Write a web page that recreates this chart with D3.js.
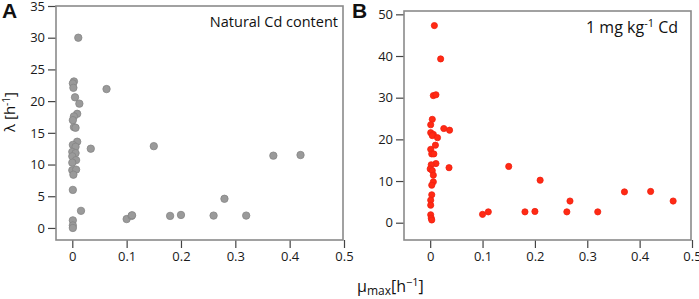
<!DOCTYPE html>
<html>
<head>
<meta charset="utf-8">
<script src="https://cdn.jsdelivr.net/npm/d3@7"></script>
<style>
  body { margin: 0; background: #fff; }
  svg { display: block; font-family: "Open Sans", sans-serif; }
</style>
</head>
<body>
<svg id="chart" width="699" height="299"></svg>
<script>
"use strict";

// Panel A: natural Cd content (mu_max, lambda)
const muNatural = [0.011, 0.003, 0.001, 0.002, 0.005, 0.013, 0.009, 0.003, 0.001, 0.003,
  0.006, 0.009, 0.001, 0.006, 0.034, 0.0, 0.006, 0.0, 0.007, 0.0, 0.0, 0.007, 0.002,
  0.001, 0.016, 0.001, 0.001, 0.001, 0.063, 0.1, 0.109, 0.11, 0.15, 0.18, 0.2, 0.26,
  0.28, 0.32, 0.37, 0.42];
const lambdaNatural = [30.0, 23.1, 22.8, 22.1, 20.6, 19.6, 18.0, 17.6, 17.0, 15.9,
  15.8, 13.6, 13.1, 12.8, 12.5, 12.0, 11.8, 11.3, 10.7, 10.3, 9.1, 9.2, 8.4,
  6.0, 2.7, 1.2, 0.4, 0.0, 21.9, 1.4, 1.9, 2.0, 12.9, 1.9, 2.05, 1.95,
  4.6, 1.95, 11.4, 11.5];

// Panel B: 1 mg/kg Cd
const muCd = [0.008, 0.02, 0.006, 0.011, 0.004, 0.001, 0.026, 0.037, 0.001, 0.006,
  0.004, 0.014, 0.01, 0.001, 0.003, 0.007, 0.011, 0.002, 0.036, 0.0, 0.004, 0.006,
  0.006, 0.003, 0.003, 0.001, 0.001, 0.001, 0.002, 0.003, 0.1, 0.111, 0.15, 0.21,
  0.181, 0.2, 0.261, 0.267, 0.32, 0.371, 0.421, 0.464];
const lambdaCd = [47.3, 39.3, 30.5, 30.7, 24.8, 23.5, 22.6, 22.2, 21.6, 21.2,
  20.9, 20.4, 18.6, 17.6, 16.5, 16.5, 14.2, 13.9, 13.2, 12.9, 12.5, 11.4,
  9.8, 9.0, 6.7, 5.4, 4.2, 1.9, 1.1, 0.65, 2.0, 2.6, 13.5, 10.2,
  2.6, 2.7, 2.6, 5.2, 2.6, 7.4, 7.5, 5.2];

const xTicks = [0, 0.1, 0.2, 0.3, 0.4, 0.5];
const yTicksA = [0, 5, 10, 15, 20, 25, 30, 35];
const yTicksB = [0, 10, 20, 30, 40, 50];

const svg = d3.select("#chart");
const fmtX = (d) => (d === 0 ? "0" : d3.format(".1f")(d));

function drawPanel(cfg) {
  const x = d3.scaleLinear().domain(cfg.xDomain).range([cfg.left, cfg.right]);
  const y = d3.scaleLinear().domain(cfg.yDomain).range([cfg.bottom, cfg.top]);
  const g = svg.append("g");

  const xAxis = g.append("g")
    .attr("transform", `translate(0,${cfg.bottom})`)
    .call(d3.axisBottom(x).tickValues(xTicks).tickFormat(fmtX).tickSize(8).tickPadding(4));
  const yAxis = g.append("g")
    .attr("transform", `translate(${cfg.left},0)`)
    .call(d3.axisLeft(y).tickValues(cfg.yTicks).tickSize(8).tickPadding(3));

  [xAxis, yAxis].forEach((a) => {
    a.select(".domain").remove();
    a.selectAll("line").attr("stroke", "#444").attr("stroke-width", 1.2);
    a.selectAll("text")
      .attr("fill", "#1a1a1a")
      .style("font-size", "13px")
      .style("font-family", "'Open Sans', sans-serif");
  });

  g.append("rect")
    .attr("x", cfg.left)
    .attr("y", cfg.top)
    .attr("width", cfg.right - cfg.left - 1)
    .attr("height", cfg.bottom - cfg.top)
    .attr("fill", "none")
    .attr("stroke", "#8a8a8a")
    .attr("stroke-width", 1.6);

  g.append("g")
    .selectAll("circle")
    .data(cfg.xs.map((v, i) => [v, cfg.ys[i]]))
    .join("circle")
    .attr("cx", (d) => x(d[0]))
    .attr("cy", (d) => y(d[1]))
    .attr("r", cfg.r)
    .attr("fill", cfg.fill)
    .attr("stroke", cfg.stroke)
    .attr("stroke-width", 0.8);

  g.append("text")
    .attr("x", cfg.labelX)
    .attr("y", 18)
    .attr("font-weight", "bold")
    .attr("font-family", "'Liberation Sans', Arial, sans-serif")
    .style("font-size", "21px")
    .attr("fill", "#111")
    .text(cfg.letter);

  return { g, x, y };
}

const A = drawPanel({
  left: 56, right: 344, top: 6, bottom: 240,
  xDomain: [-0.03, 0.5], yDomain: [-1.9, 35],
  yTicks: yTicksA, xs: muNatural, ys: lambdaNatural,
  r: 3.7, fill: "#9a9a9a", stroke: "#858585",
  letter: "A", labelX: 2
});

const B = drawPanel({
  left: 404, right: 692, top: 11, bottom: 240,
  xDomain: [-0.05, 0.5], yDomain: [-4.15, 50.8],
  yTicks: yTicksB, xs: muCd, ys: lambdaCd,
  r: 3.1, fill: "#ff2a14", stroke: "#f02010",
  letter: "B", labelX: 352
});

// panel annotations
A.g.append("text")
  .attr("x", 338).attr("y", 27)
  .attr("text-anchor", "end")
  .style("font-size", "14.5px")
  .attr("fill", "#111")
  .text("Natural Cd content");

const bt = B.g.append("text")
  .attr("x", 678).attr("y", 33)
  .attr("text-anchor", "end")
  .style("font-size", "16px")
  .attr("fill", "#111");
bt.append("tspan").text("1 mg kg");
bt.append("tspan").attr("dy", -6).style("font-size", "11px").text("-1");
bt.append("tspan").attr("dy", 6).text(" Cd");

// axis titles
const yl = svg.append("text")
  .attr("transform", "translate(15,112) rotate(-90)")
  .attr("text-anchor", "middle")
  .style("font-size", "15px")
  .attr("fill", "#111");
yl.append("tspan").text("λ [h");
yl.append("tspan").attr("dy", -5).style("font-size", "10px").text("-1");
yl.append("tspan").attr("dy", 5).text("]");

const xl = svg.append("text")
  .attr("x", 357).attr("y", 292)
  .style("font-size", "16px")
  .attr("fill", "#111");
xl.append("tspan").text("μ");
xl.append("tspan").attr("dy", 3).style("font-size", "12px").text("max");
xl.append("tspan").attr("dy", -3).text("[h");
xl.append("tspan").attr("dy", -6).style("font-size", "11px").text("−1");
xl.append("tspan").attr("dy", 6).text("]");
</script>
</body>
</html>
